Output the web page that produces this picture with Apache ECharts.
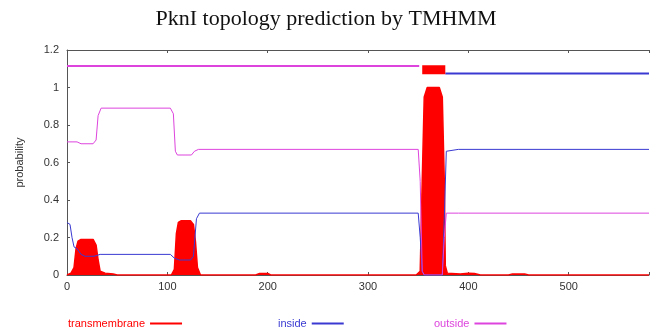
<!DOCTYPE html>
<html>
<head>
<meta charset="utf-8">
<script src="https://cdn.jsdelivr.net/npm/echarts@6/dist/echarts.min.js"></script>
<style>
	html, body { margin: 0; padding: 0; background: #fff; }
	#chart { width: 652px; height: 333px; }
</style>
</head>
<body>
<div id="chart"></div>
<script type="text/javascript">
// 曲线数据 [位置, 概率]
var tmPoints = [[0,0],[4,0.01],[7,0.04],[9,0.14],[11,0.18],[14,0.19],[26,0.19],[29,0.16],[31,0.08],[33,0.02],[38,0.01],[46,0.005],[50,0],
	[104,0],[107,0.03],[109,0.22],[111,0.28],[114,0.29],[123,0.29],[126,0.27],[128,0.18],[130,0.04],[133,0],
	[188,0],[192,0.008],[200,0.008],[203,0],
	[348,0],[352,0.02],[354,0.5],[356,0.95],[359,1.0],[371,1.0],[374,0.95],[376,0.5],[377,0.05],[379,0.01],
	[392,0.005],[400,0.01],[406,0.008],[412,0],[440,0],[444,0.006],[456,0.006],[460,0],[580,0]];
var insidePoints = [[0,0.28],[3,0.27],[5,0.2],[7,0.15],[10,0.14],[14,0.11],[18,0.1],[27,0.1],[33,0.11],
	[103,0.11],[107,0.09],[112,0.08],[123,0.08],[126,0.1],[129,0.3],[132,0.33],
	[350,0.33],[352,0.2],[354,0.02],[356,0],[374,0],[376,0.3],[378,0.66],[390,0.67],[580,0.67]];
var outsidePoints = [[0,0.71],[10,0.71],[14,0.7],[26,0.7],[29,0.72],[31,0.85],[34,0.89],
	[103,0.89],[106,0.86],[108,0.66],[110,0.64],[124,0.64],[127,0.66],[131,0.67],
	[350,0.67],[352,0.5],[354,0.02],[356,0],[374,0],[376,0.2],[378,0.33],[390,0.33],[580,0.33]];
// 顶部拓扑线
var topOutside = [[0,1.115],[351,1.115]];
var topTm = [[354,1.095],[377,1.095]];
var topInside = [[377,1.075],[580,1.075]];
var xTicks = [0,100,200,300,400,500];
var yTicks = [0,0.2,0.4,0.6,0.8,1,1.2];

var red = '#ff0000', blue = '#3a3ad2', magenta = '#dd44dd';

var myChart = echarts.init(document.getElementById('chart'));
var legendBase = {
	top: 313, itemWidth: 32, itemHeight: 2, align: 'right', icon: 'rect', selectedMode: false
};
var option = {
	animation: false,
	title: {
		text: 'PknI topology prediction by TMHMM',
		left: 'center', top: 3,
		textStyle: { fontFamily: 'Liberation Serif', fontWeight: 'normal', fontSize: 22, color: '#111' }
	},
	legend: [
		Object.assign({}, legendBase, { left: 63, data: ['transmembrane'], textStyle: { fontSize: 11, color: red, fontFamily: 'Liberation Sans' } }),
		Object.assign({}, legendBase, { left: 273, data: ['inside'], textStyle: { fontSize: 11, color: blue, fontFamily: 'Liberation Sans' } }),
		Object.assign({}, legendBase, { left: 429, data: ['outside'], textStyle: { fontSize: 11, color: magenta, fontFamily: 'Liberation Sans' } })
	],
	grid: { left: 67, right: 0, top: 50, bottom: 58 },
	xAxis: [{
		type: 'value', min: 0, max: 580, interval: 100,
		axisLine: { lineStyle: { color: '#555' } },
		axisTick: { inside: true, length: 3, lineStyle: { color: '#555' } },
		axisLabel: { fontSize: 11, color: '#333', fontFamily: 'Liberation Sans', margin: 6,
			formatter: function (v) { return xTicks.indexOf(v) >= 0 ? v : ''; } },
		splitLine: { show: false }
	}, {
		type: 'value', min: 0, max: 580, interval: 100, position: 'top',
		axisLine: { show: true, lineStyle: { color: '#555' } },
		axisTick: { inside: true, length: 3, lineStyle: { color: '#555' } },
		axisLabel: { show: false }, splitLine: { show: false }
	}],
	yAxis: {
		type: 'value', min: 0, max: 1.2, interval: 0.2,
		name: 'probability', nameLocation: 'middle', nameGap: 42, nameRotate: 90,
		nameTextStyle: { fontSize: 11, color: '#333', fontFamily: 'Liberation Sans' },
		axisLine: { show: true, lineStyle: { color: '#555' } },
		axisTick: { show: true, inside: true, length: 3, lineStyle: { color: '#555' } },
		axisLabel: { fontSize: 11, color: '#333', fontFamily: 'Liberation Sans', margin: 8,
			formatter: function (v) {
				var t = yTicks.filter(function (y) { return Math.abs(y - v) < 1e-6; });
				return t.length ? String(Math.round(t[0] * 10) / 10) : '';
			} },
		splitLine: { show: false }
	},
	series: [
		{
			name: 'transmembrane', type: 'line', data: tmPoints, symbol: 'none',
			itemStyle: { color: red }, lineStyle: { color: red, width: 1.5 },
			areaStyle: { color: red, opacity: 1 }, z: 3
		},
		{
			name: 'inside', type: 'line', data: insidePoints, symbol: 'none',
			itemStyle: { color: blue }, lineStyle: { color: blue, width: 1 }, z: 4
		},
		{
			name: 'outside', type: 'line', data: outsidePoints, symbol: 'none',
			itemStyle: { color: magenta }, lineStyle: { color: magenta, width: 1 }, z: 4
		},
		{
			name: 'outside', type: 'line', data: topOutside, symbol: 'none',
			lineStyle: { color: magenta, width: 2 }, z: 4
		},
		{
			name: 'inside', type: 'line', data: topInside, symbol: 'none',
			lineStyle: { color: blue, width: 2 }, z: 4
		},
		{
			name: 'transmembrane', type: 'line', data: topTm, symbol: 'none',
			lineStyle: { color: red, width: 9 }, z: 4
		}
	]
};
myChart.setOption(option);
</script>
</body>
</html>
